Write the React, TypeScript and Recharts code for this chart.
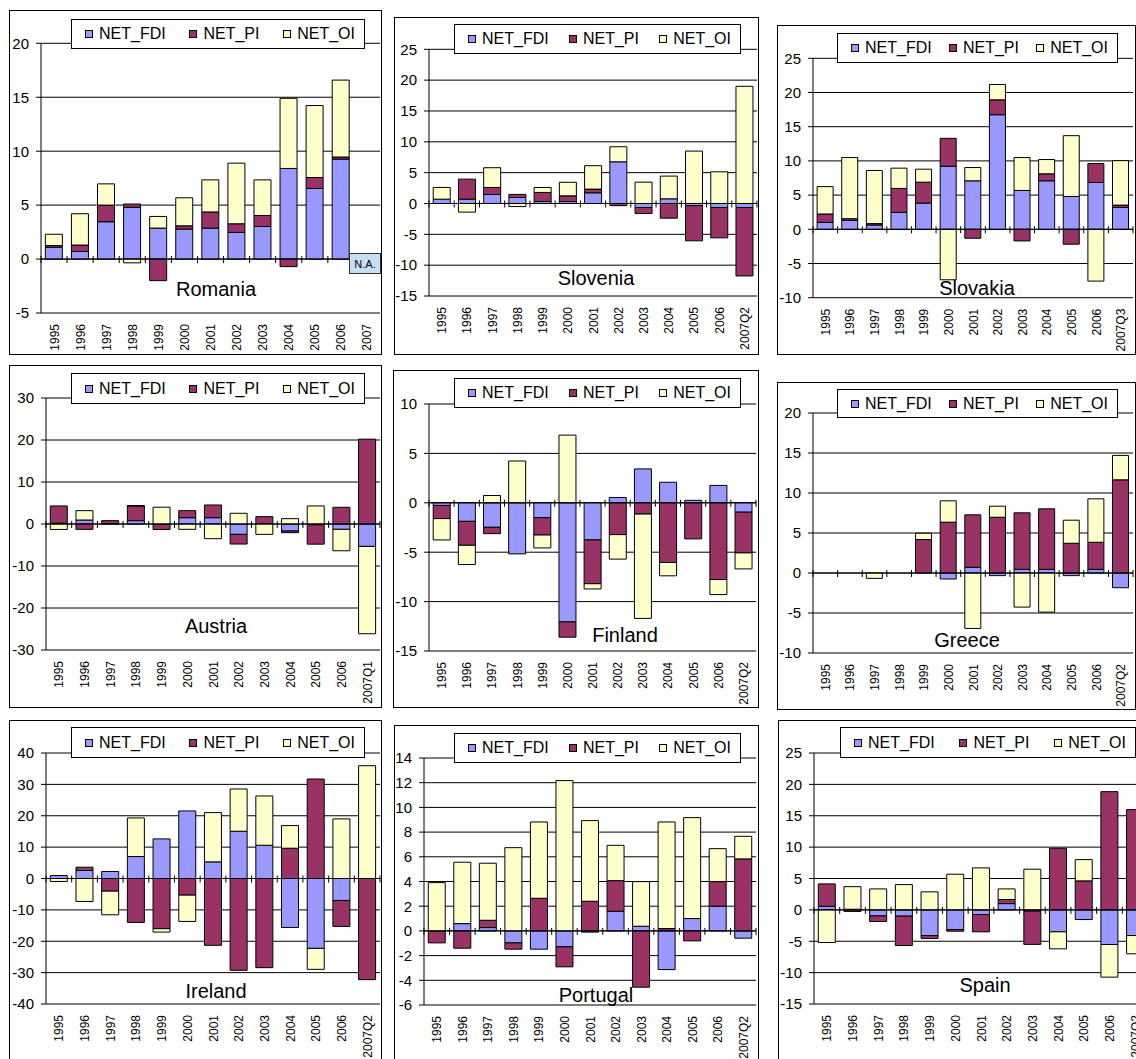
import React from 'react';
import { BarChart, Bar, XAxis, YAxis, CartesianGrid, ReferenceLine, Legend } from 'recharts';

const FONT = "'Liberation Sans', Arial, Helvetica, sans-serif";

const SERIES = [
  { key: 'fdi', name: 'NET_FDI', color: '#9999FF' },
  { key: 'pi', name: 'NET_PI', color: '#993366' },
  { key: 'oi', name: 'NET_OI', color: '#FFFFCC' },
];

// ---------- categories ----------
const YEARS = ['1995', '1996', '1997', '1998', '1999', '2000', '2001', '2002', '2003', '2004', '2005', '2006'];
const romaniaCategories = [...YEARS, '2007'];
const slovakiaCategories = [...YEARS, '2007Q3'];
const austriaCategories = [...YEARS, '2007Q1'];
const q2Categories = [...YEARS, '2007Q2'];

// ---------- tick labels ----------
const romaniaTicks = [-5, 0, 5, 10, 15, 20];
const sloveniaTicks = [-15, -10, -5, 0, 5, 10, 15, 20, 25];
const slovakiaTicks = [-10, -5, 0, 5, 10, 15, 20, 25];
const austriaTicks = [-30, -20, -10, 0, 10, 20, 30];
const finlandTicks = [-15, -10, -5, 0, 5, 10];
const greeceTicks = [-10, -5, 0, 5, 10, 15, 20];
const irelandTicks = [-40, -30, -20, -10, 0, 10, 20, 30, 40];
const portugalTicks = [-6, -4, -2, 0, 2, 4, 6, 8, 10, 12, 14];
const spainTicks = [-15, -10, -5, 0, 5, 10, 15, 20, 25];

// ---------- series values ----------
const romaniaFDI = [1.1, 0.7, 3.46, 4.8, 2.87, 2.78, 2.87, 2.47, 3.02, 8.4, 6.54, 9.26, null];
const romaniaPI = [0.15, 0.6, 1.54, 0.3, -2.0, 0.3, 1.5, 0.8, 1.02, -0.7, 1.02, 0.2, null];
const romaniaOI = [1.05, 2.9, 1.97, -0.35, 1.08, 2.6, 2.97, 5.62, 3.3, 6.5, 6.67, 7.13, null];

const sloveniaFDI = [0.7, 0.7, 1.46, 0.97, 0.32, 0.32, 1.73, 6.76, -0.65, 0.76, -0.35, -0.65, -0.65];
const sloveniaPI = [0, 3.25, 1.14, 0.5, 1.47, 0.92, 0.6, -0.35, -0.97, -2.38, -5.7, -4.92, -11.1];
const sloveniaOI = [1.9, -1.4, 3.2, -0.5, 0.8, 2.2, 3.8, 2.44, 3.46, 3.68, 8.5, 5.14, 19.0];

const slovakiaFDI = [1.02, 1.31, 0.63, 2.48, 3.83, 9.22, 7.09, 16.75, 5.68, 7.09, 4.8, 6.84, 3.2];
const slovakiaPI = [1.22, 0.24, 0.2, 3.5, 3.06, 4.08, -1.31, 2.18, -1.7, 1.02, -2.18, 2.77, 0.34];
const slovakiaOI = [4.0, 8.94, 7.77, 2.96, 1.9, -7.38, 1.94, 2.24, 4.81, 2.09, 8.89, -7.57, 6.5];

const austriaFDI = [0.2, 0.95, 0.1, 0.8, -0.1, 1.5, 1.5, -2.47, 0.1, -1.67, -0.2, -1.27, -5.33];
const austriaPI = [4.1, -1.27, 0.7, 3.5, -1.2, 1.68, 3.03, -2.3, 1.65, -0.4, -4.6, 3.98, 20.2];
const austriaOI = [-1.3, 2.23, 0, 0.1, 4.0, -1.27, -3.5, 2.55, -2.47, 1.27, 4.3, -5.1, -20.8];

const finlandFDI = [-0.27, -1.88, -2.48, -5.17, -1.51, -12.05, -3.76, 0.54, 3.43, 2.08, 0.25, 1.76, -0.95];
const finlandPI = [-1.33, -2.42, -0.64, 0, -1.75, -1.55, -4.43, -3.22, -1.14, -6.04, -3.65, -7.77, -4.12];
const finlandOI = [-2.16, -1.95, 0.74, 4.23, -1.31, 6.85, -0.53, -2.48, -10.56, -1.35, 0, -1.52, -1.62];

const greeceFDI = [null, null, null, null, 0, -0.75, 0.71, -0.33, 0.46, 0.46, -0.33, 0.46, -1.84];
const greecePI = [null, null, null, null, 4.18, 6.35, 6.56, 6.97, 7.06, 7.56, 3.72, 3.38, 11.65];
const greeceOI = [null, null, -0.67, null, 0.79, 2.67, -6.93, 1.38, -4.26, -4.89, 2.88, 5.43, 3.05];

const irelandFDI = [0.95, 2.55, 2.23, 7.0, 12.62, 21.53, 5.3, 15.06, 10.6, -15.6, -22.27, -7.0, 0];
const irelandPI = [0, 1.05, -4.03, -14.0, -16.0, -5.3, -21.3, -29.27, -28.42, 9.65, 31.7, -8.27, -32.24];
const irelandOI = [-0.95, -7.32, -7.53, 12.3, -1.07, -8.38, 15.7, 13.47, 15.7, 7.21, -6.68, 19.0, 35.95];

const portugalFDI = [0, 0.59, 0.27, -0.97, -1.48, -1.29, -0.1, 1.59, 0.38, -3.13, 1.0, 2.0, -0.59];
const portugalPI = [-0.97, -1.4, 0.59, -0.51, 2.64, -1.62, 2.4, 2.48, -4.56, 0.19, -0.81, 1.99, 5.83];
const portugalOI = [3.91, 4.97, 4.62, 6.74, 6.18, 12.17, 6.53, 2.86, 3.61, 8.63, 8.17, 2.67, 1.83];

const spainFDI = [0.58, 0.1, -0.96, -1.0, -4.09, -3.13, -0.74, 1.0, -0.2, -3.5, -1.54, -5.52, -4.09];
const spainPI = [3.56, -0.25, -0.9, -4.68, -0.47, -0.27, -2.76, 0.65, -5.3, 9.82, 4.62, 18.84, 15.98];
const spainOI = [-5.2, 3.6, 3.34, 4.03, 2.87, 5.68, 6.69, 1.69, 6.48, -2.71, 3.39, -5.2, -2.91];

type Num = number | null;
type Box = { x: number; y: number; w: number; h: number };
type Plot = { l: number; t: number; r: number; b: number };

type PanelDef = {
  name: string;
  cats: string[];
  fdi: Num[];
  pi: Num[];
  oi: Num[];
  ticks: number[];
  box: Box;
  plot: Plot;
  legend: { x: number; y: number; w: number; h: number };
  title: { x: number; y: number };
  na?: boolean;
};

const PANELS: PanelDef[] = [
  {
    name: 'Romania', cats: romaniaCategories, fdi: romaniaFDI, pi: romaniaPI, oi: romaniaOI, ticks: romaniaTicks,
    box: { x: 9, y: 10, w: 373, h: 345 }, plot: { l: 41, t: 43.3, r: 380, b: 313 },
    legend: { x: 71, y: 19, w: 294, h: 30 }, title: { x: 216, y: 289 }, na: true,
  },
  {
    name: 'Slovenia', cats: q2Categories, fdi: sloveniaFDI, pi: sloveniaPI, oi: sloveniaOI, ticks: sloveniaTicks,
    box: { x: 394, y: 17, w: 365, h: 338 }, plot: { l: 429, t: 49.3, r: 757, b: 296 },
    legend: { x: 454, y: 24, w: 287, h: 30 }, title: { x: 596, y: 278 },
  },
  {
    name: 'Slovakia', cats: slovakiaCategories, fdi: slovakiaFDI, pi: slovakiaPI, oi: slovakiaOI, ticks: slovakiaTicks,
    box: { x: 777, y: 25, w: 359, h: 330 }, plot: { l: 813, t: 58.3, r: 1133, b: 297.7 },
    legend: { x: 837, y: 33, w: 281, h: 30 }, title: { x: 977, y: 288 },
  },
  {
    name: 'Austria', cats: austriaCategories, fdi: austriaFDI, pi: austriaPI, oi: austriaOI, ticks: austriaTicks,
    box: { x: 9, y: 365, w: 373, h: 343 }, plot: { l: 46, t: 398, r: 380, b: 650 },
    legend: { x: 71, y: 373, w: 294, h: 31 }, title: { x: 216, y: 626 },
  },
  {
    name: 'Finland', cats: q2Categories, fdi: finlandFDI, pi: finlandPI, oi: finlandOI, ticks: finlandTicks,
    box: { x: 393, y: 370, w: 366, h: 338 }, plot: { l: 429, t: 404, r: 756, b: 651 },
    legend: { x: 454, y: 378, w: 287, h: 30 }, title: { x: 625, y: 635 },
  },
  {
    name: 'Greece', cats: q2Categories, fdi: greeceFDI, pi: greecePI, oi: greeceOI, ticks: greeceTicks,
    box: { x: 777, y: 382, w: 359, h: 328 }, plot: { l: 813, t: 413, r: 1133, b: 653 },
    legend: { x: 837, y: 389, w: 281, h: 29 }, title: { x: 967, y: 640 },
  },
  {
    name: 'Ireland', cats: q2Categories, fdi: irelandFDI, pi: irelandPI, oi: irelandOI, ticks: irelandTicks,
    box: { x: 9, y: 720, w: 373, h: 360 }, plot: { l: 46, t: 753, r: 380, b: 1004 },
    legend: { x: 71, y: 727, w: 294, h: 31 }, title: { x: 216, y: 991 },
  },
  {
    name: 'Portugal', cats: q2Categories, fdi: portugalFDI, pi: portugalPI, oi: portugalOI, ticks: portugalTicks,
    box: { x: 394, y: 725, w: 365, h: 355 }, plot: { l: 424, t: 758, r: 756, b: 1005 },
    legend: { x: 454, y: 733, w: 287, h: 30 }, title: { x: 596, y: 995 },
  },
  {
    name: 'Spain', cats: q2Categories, fdi: spainFDI, pi: spainPI, oi: spainOI, ticks: spainTicks,
    box: { x: 778, y: 720, w: 380, h: 360 }, plot: { l: 814, t: 753, r: 1148, b: 1004 },
    legend: { x: 840, y: 727, w: 296, h: 31 }, title: { x: 985, y: 985 },
  },
];

const XTick = (props: any) => {
  const { x, y, payload } = props;
  return (
    <text
      transform={`translate(${x + 4.5},${y + 11}) rotate(-90)`}
      textAnchor="end"
      fontSize={12}
      fontFamily={FONT}
      fill="#000"
    >
      {payload.value}
    </text>
  );
};

const makeZeroAxis = (n: number) => (p: any) => {
  const { x1, y1, x2 } = p;
  const step = (x2 - x1) / n;
  return (
    <g>
      <line x1={x1} y1={y1} x2={x2} y2={y1} stroke="#000" strokeWidth={1} />
      {Array.from({ length: n + 1 }, (_, i) => (
        <line key={i} x1={x1 + i * step} x2={x1 + i * step} y1={y1 - 3} y2={y1 + 4} stroke="#000" strokeWidth={1} />
      ))}
    </g>
  );
};

const LegendBox = ({ w, h }: { w: number; h: number }) => (
  <div
    style={{
      width: w,
      height: h,
      boxSizing: 'border-box',
      border: '1px solid #000',
      background: '#fff',
      display: 'flex',
      alignItems: 'center',
      justifyContent: 'space-between',
      paddingLeft: 13,
      paddingRight: 9,
      fontFamily: FONT,
      fontSize: 16,
      color: '#000',
      whiteSpace: 'nowrap',
    }}
  >
    {SERIES.map((s) => (
      <div key={s.key} style={{ display: 'flex', alignItems: 'center' }}>
        <span
          style={{
            display: 'inline-block',
            width: 8,
            height: 8,
            boxSizing: 'border-box',
            border: '1px solid #000',
            background: s.color,
            marginRight: 6,
          }}
        />
        <span>{s.name}</span>
      </div>
    ))}
  </div>
);

const Panel = ({ def }: { def: PanelDef }) => {
  const { box, plot, ticks } = def;
  const rows = def.cats.map((c, i) => ({ cat: c, fdi: def.fdi[i], pi: def.pi[i], oi: def.oi[i] }));
  const domain: [number, number] = [ticks[0], ticks[ticks.length - 1]];
  return (
    <>
      <div
        style={{
          position: 'absolute',
          left: box.x,
          top: box.y,
          width: box.w,
          height: box.h,
          boxSizing: 'border-box',
          border: '1px solid #000',
          background: '#fff',
        }}
      />
      <div style={{ position: 'absolute', left: box.x, top: box.y }}>
        <BarChart
          width={box.w}
          height={box.h}
          data={rows}
          stackOffset="sign"
          barCategoryGap="16.7%"
          margin={{ top: plot.t - box.y, right: box.x + box.w - plot.r, bottom: 0, left: 0 }}
        >
          <CartesianGrid vertical={false} stroke="#000" strokeWidth={1} />
          <XAxis
            dataKey="cat"
            interval={0}
            axisLine={false}
            tickLine={false}
            tickSize={0}
            tickMargin={0}
            height={box.y + box.h - plot.b}
            tick={XTick}
          />
          <YAxis
            type="number"
            domain={domain}
            ticks={ticks}
            interval={0}
            allowDataOverflow
            width={plot.l - box.x}
            axisLine={{ stroke: '#000' }}
            tickLine={{ stroke: '#000' }}
            tickSize={5}
            tickMargin={7}
            tick={{ fill: '#000', fontSize: 15, fontFamily: FONT }}
          />
          {SERIES.map((s) => (
            <Bar
              key={s.key}
              dataKey={s.key}
              name={s.name}
              stackId="s"
              fill={s.color}
              stroke="#000"
              strokeWidth={1}
              isAnimationActive={false}
            />
          ))}
          <ReferenceLine y={0} stroke="#000" shape={makeZeroAxis(def.cats.length)} />
          <Legend
            layout="vertical"
            align="center"
            verticalAlign="middle"
            wrapperStyle={{ left: def.legend.x - box.x, top: def.legend.y - box.y, width: def.legend.w }}
            content={() => <LegendBox w={def.legend.w} h={def.legend.h} />}
          />
        </BarChart>
      </div>
      <div
        style={{
          position: 'absolute',
          left: def.title.x,
          top: def.title.y,
          transform: 'translate(-50%, -50%)',
          fontFamily: FONT,
          fontSize: 20,
          lineHeight: 1,
          color: '#000',
          whiteSpace: 'nowrap',
        }}
      >
        {def.name}
      </div>
      {def.na && (
        <div
          style={{
            position: 'absolute',
            left: 349,
            top: 253,
            width: 32,
            height: 21,
            boxSizing: 'border-box',
            border: '1px solid #333',
            background: '#C8DEF6',
            fontFamily: FONT,
            fontSize: 11,
            color: '#000',
            display: 'flex',
            alignItems: 'center',
            justifyContent: 'center',
          }}
        >
          N.A.
        </div>
      )}
    </>
  );
};

export default function App() {
  return (
    <div
      style={{
        position: 'fixed',
        left: 0,
        top: 0,
        width: 1136,
        height: 1059,
        overflow: 'hidden',
        background: '#fff',
      }}
    >
      {PANELS.map((p) => (
        <Panel key={p.name} def={p} />
      ))}
    </div>
  );
}
